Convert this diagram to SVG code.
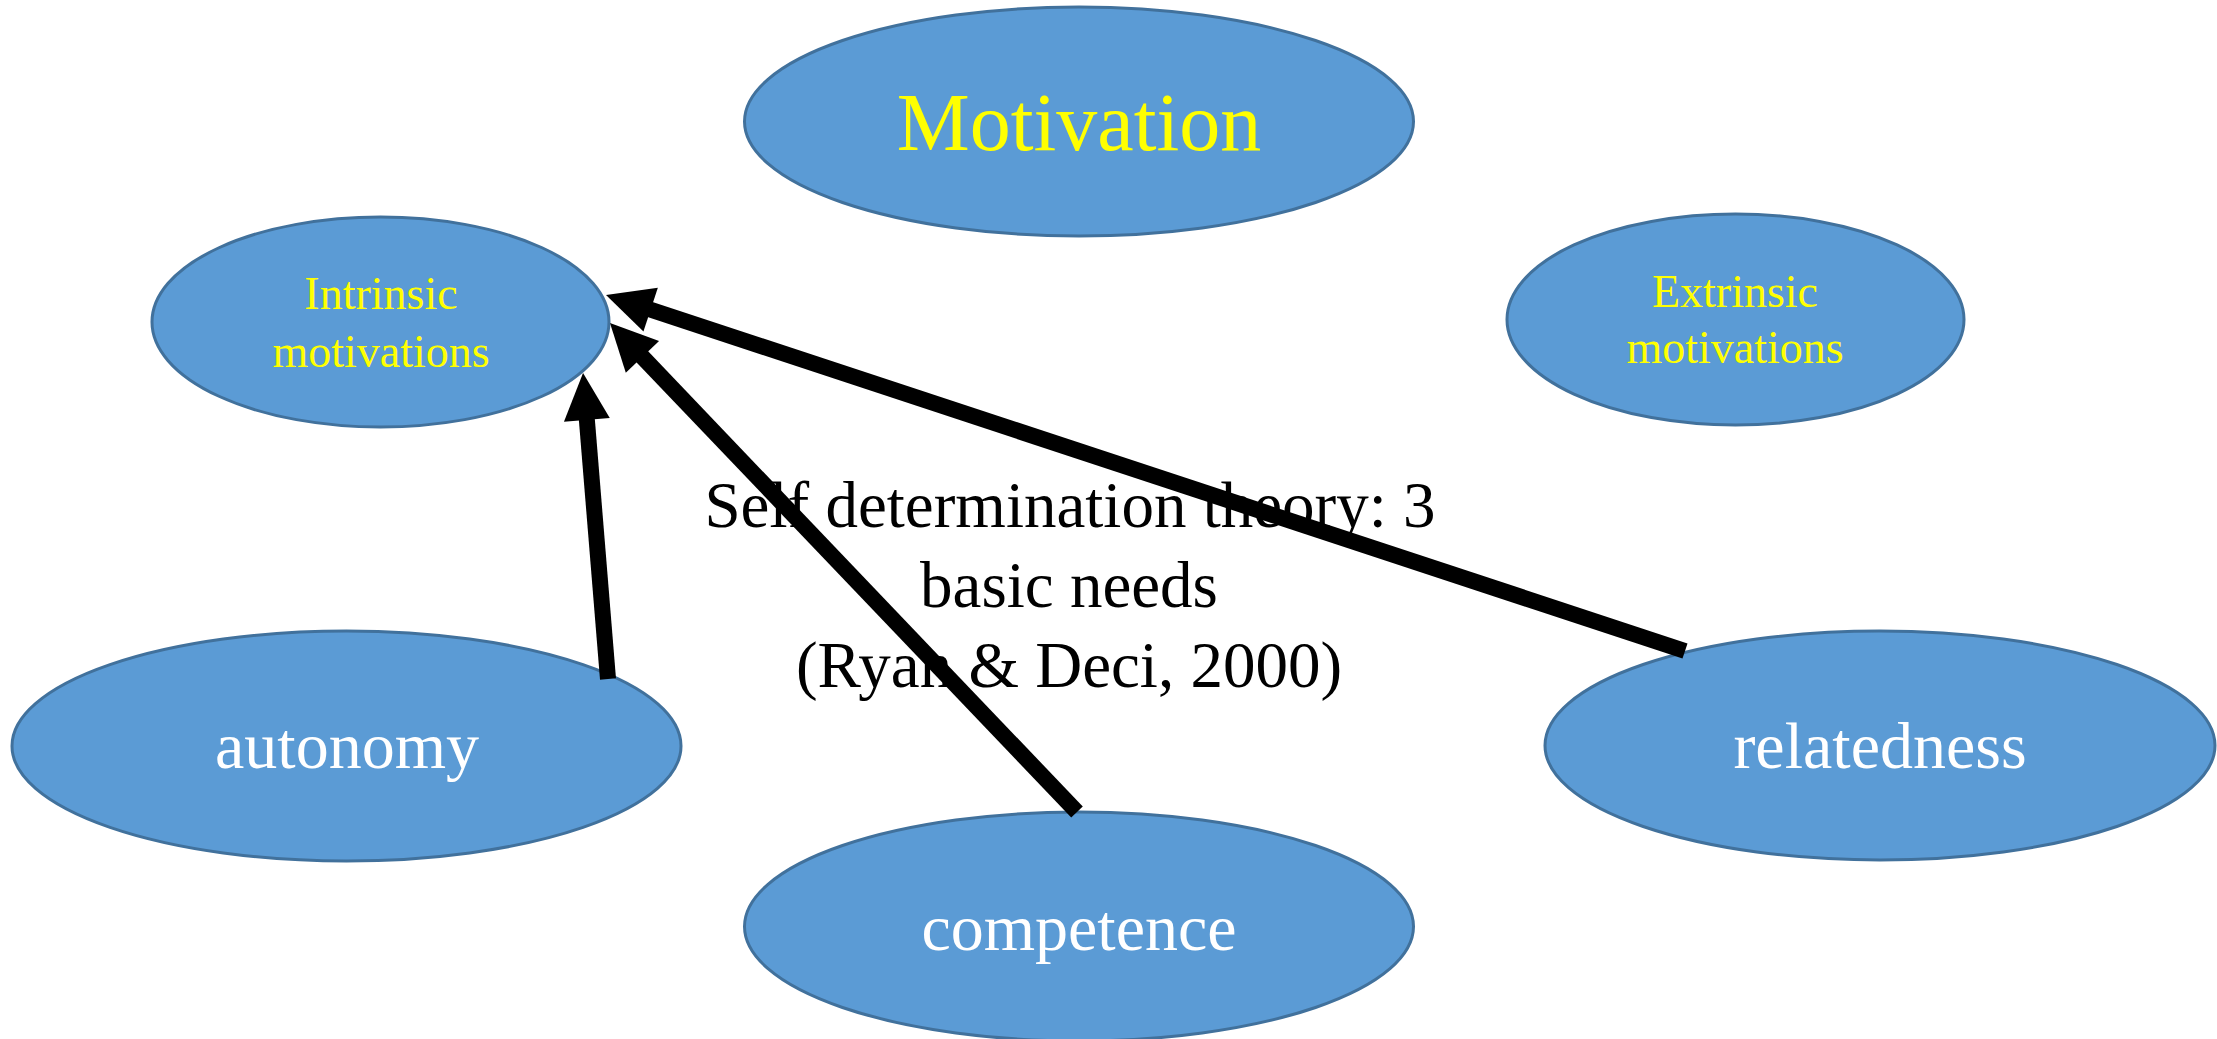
<svg xmlns="http://www.w3.org/2000/svg" width="2217" height="1039" viewBox="0 0 2217 1039">
  <style>
    .node { fill: #5B9BD5; stroke: #41719C; stroke-width: 3; }
    .t { font-family: "Liberation Serif", "Times New Roman", serif; text-anchor: middle; }
    .y { fill: #FFFF00; }
    .w { fill: #FFFFFF; }
    .b { fill: #000000; }
    .conn { stroke: #000000; stroke-width: 16; fill: none; marker-end: url(#head); }
  </style>
  <defs>
    <marker id="head" markerUnits="userSpaceOnUse" viewBox="0 0 47 46" markerWidth="47" markerHeight="46" refX="7" refY="23" orient="auto" overflow="visible">
      <path d="M0,0 L47,23 L0,46 z" fill="#000000"/>
    </marker>
  </defs>
  <rect width="2217" height="1039" fill="#FFFFFF"/>

  <g id="motivation">
    <ellipse class="node" cx="1079" cy="121.5" rx="334.5" ry="114.5"/>
    <text class="t y" x="1079" y="150" font-size="82">Motivation</text>
  </g>
  <g id="intrinsic">
    <ellipse class="node" cx="380.5" cy="322" rx="228.5" ry="105"/>
    <text class="t y" x="381" y="309" font-size="46">Intrinsic</text>
    <text class="t y" x="381" y="367" font-size="46">motivations</text>
  </g>
  <g id="extrinsic">
    <ellipse class="node" cx="1735.5" cy="319.5" rx="228.5" ry="105.5"/>
    <text class="t y" x="1735" y="307" font-size="46">Extrinsic</text>
    <text class="t y" x="1735" y="363" font-size="46">motivations</text>
  </g>
  <g id="autonomy">
    <ellipse class="node" cx="346.5" cy="746" rx="334.5" ry="115"/>
    <text class="t w" x="347" y="768" font-size="66">autonomy</text>
  </g>
  <g id="competence">
    <ellipse class="node" cx="1079" cy="926.5" rx="334.5" ry="114.5"/>
    <text class="t w" x="1079" y="950" font-size="66">competence</text>
  </g>
  <g id="relatedness">
    <ellipse class="node" cx="1880" cy="745.5" rx="335" ry="114.5"/>
    <text class="t w" x="1880" y="768" font-size="66">relatedness</text>
  </g>

  <g id="label">
    <text class="t b" x="1070" y="527" font-size="65">Self determination theory: 3</text>
    <text class="t b" x="1069" y="607" font-size="65">basic needs</text>
    <text class="t b" x="1069" y="687" font-size="65">(Ryan &amp; Deci, 2000)</text>
  </g>

  <g id="connectors">
    <line class="conn" x1="608" y1="679" x2="586.3" y2="412.9"/>
    <line class="conn" x1="1077" y1="812" x2="637.6" y2="351.9"/>
    <line class="conn" x1="1685" y1="651" x2="644" y2="307.5"/>
  </g>
</svg>
